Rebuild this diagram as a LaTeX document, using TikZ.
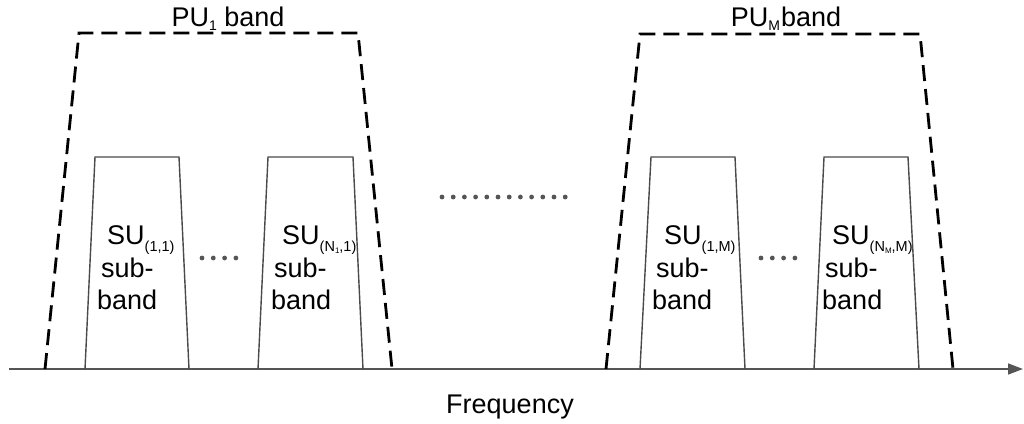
\documentclass[tikz,border=0pt]{standalone}
\usepackage{fontspec}
\setmainfont{Liberation Sans}
\usetikzlibrary{arrows.meta}
\definecolor{axisgray}{HTML}{555555}
\definecolor{boxgray}{HTML}{4A4A4A}
\tikzset{
  pu/.style={draw=black, line width=2.8pt, dash pattern=on 16pt off 8pt},
  su/.style={draw=boxgray, line width=1.4pt},
  axis/.style={draw=axisgray, line width=1.5pt, -{Triangle[length=15pt,width=11pt]}},
  lbl/.style={inner sep=0pt, anchor=base west, font=\fontsize{27}{30}\selectfont},
  dotg/.style={fill=axisgray, draw=none},
}
\newcommand{\tinyN}[1]{N{\fontsize{8}{9}\selectfont\raisebox{-2pt}{#1}}}
\begin{document}
\begin{tikzpicture}[x=1pt,y=-1pt]
\useasboundingbox (0,0) rectangle (1024,423);

% frequency axis
\coordinate (a0) at (9,369);
\coordinate (a1) at (1023,369);
\draw[axis] (a0) -- (a1);
\node[lbl, anchor=base] (freq) at (510,413) {Frequency};

% primary user bands
\draw[pu] (45,369) -- (79,33) -- (358,33) -- (392,369);
\node[lbl, anchor=base] (pu1) at (228,26) {PU\raisebox{-5pt}{\fontsize{14}{16}\selectfont 1} band};
\draw[pu] (606,369) -- (640,34) -- (920,34) -- (953,369);
\node[lbl, anchor=base] (puM) at (786,26) {PU\raisebox{-5pt}{\fontsize{14}{16}\selectfont M}\hspace{1pt}band};

% secondary user sub-bands
\draw[su] (85,369) -- (95,157) -- (179,157) -- (189,369);
\draw[su] (258,369) -- (268,157) -- (353,157) -- (363,369);
\draw[su] (640,369) -- (651,157) -- (735,157) -- (745,369);
\draw[su] (814,369) -- (824,157) -- (908,157) -- (919,369);

\node[lbl] (s1a) at (107,244) {SU\raisebox{-7pt}{\fontsize{14.5}{16}\selectfont (1,1)}};
\node[lbl] (s1b) at (101,277) {sub-};
\node[lbl] (s1c) at (97,309) {band};

\node[lbl] (s2a) at (282,244) {SU\raisebox{-7pt}{\fontsize{14.5}{16}\selectfont (\tinyN{1},1)}};
\node[lbl] (s2b) at (274,277) {sub-};
\node[lbl] (s2c) at (271,309) {band};

\node[lbl] (s3a) at (664,244) {SU\raisebox{-7pt}{\fontsize{14.5}{16}\selectfont (1,M)}};
\node[lbl] (s3b) at (656,277) {sub-};
\node[lbl] (s3c) at (652,309) {band};

\node[lbl] (s4a) at (832,244) {SU\raisebox{-7pt}{\fontsize{14.5}{16}\selectfont (\tinyN{M},M)}};
\node[lbl] (s4b) at (825,277) {sub-};
\node[lbl] (s4c) at (822,309) {band};

% ellipses
\foreach \i in {0,...,3} {
  \fill[dotg] (202+11.3*\i,258) circle (2.4pt);
  \fill[dotg] (761+11.3*\i,258) circle (2.4pt);
}
\foreach \i in {0,...,11} {
  \fill[dotg] (442+11.2*\i,197) circle (2.4pt);
}
\end{tikzpicture}
\end{document}
